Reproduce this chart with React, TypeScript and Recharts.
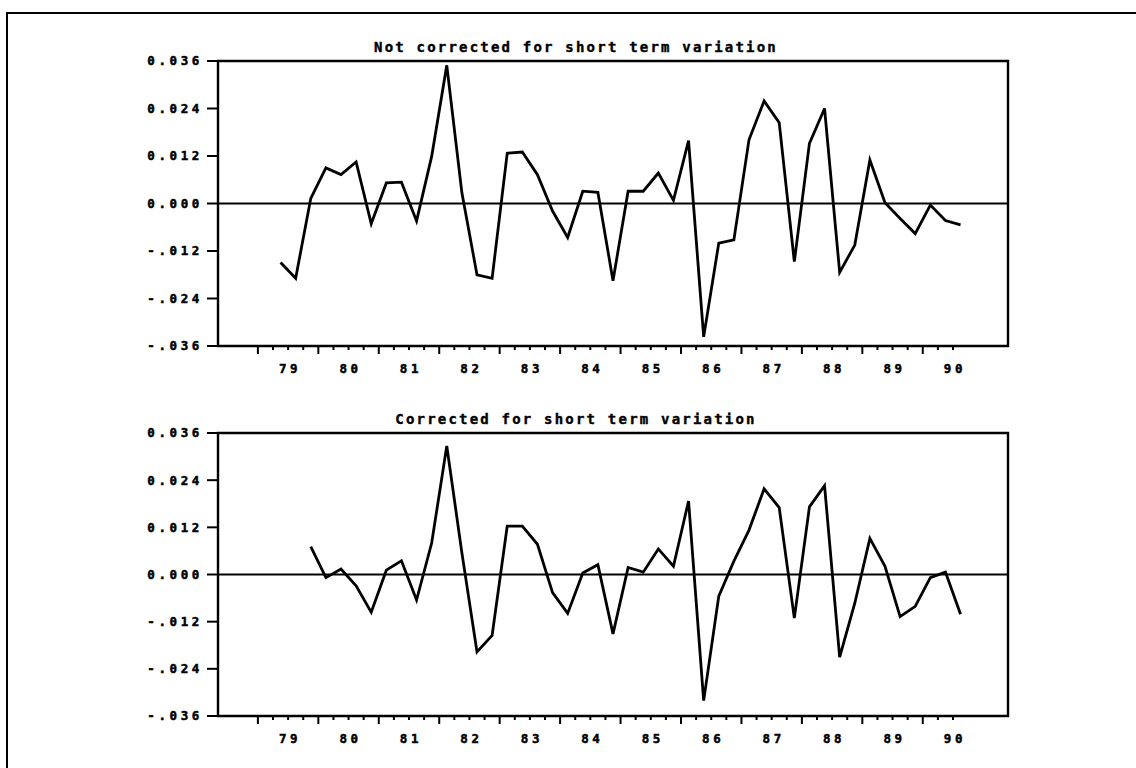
import React from "react";
import {
  LineChart,
  Line,
  XAxis,
  YAxis,
  ReferenceLine,
  ReferenceArea,
} from "recharts";

// quarterly observations, 1979 Q2 .. 1990 Q3
const firstYear = 1979;
const firstQuarter = 2;
const periodCount = 46;

const notCorrected = [
  -0.0149, -0.0189, 0.0013, 0.009, 0.0073, 0.0105, -0.0051, 0.0052, 0.0054, -0.0044,
  0.0119, 0.0349, 0.0027, -0.018, -0.0189, 0.0127, 0.013, 0.0073, -0.0019, -0.0086,
  0.0031, 0.0028, -0.0195, 0.0031, 0.0031, 0.0077, 0.0008, 0.0159, -0.0337, -0.01,
  -0.0092, 0.0161, 0.0259, 0.0204, -0.0147, 0.0152, 0.024, -0.0174, -0.0105, 0.011,
  0.0002, -0.0038, -0.0076, -0.0004, -0.0043, -0.0054,
];

const corrected = [
  null, null,
  0.0071, -0.0008, 0.0014, -0.0029, -0.0096, 0.0011, 0.0035, -0.0065,
  0.008, 0.0327, 0.0055, -0.0197, -0.0155, 0.0123, 0.0123, 0.0077, -0.0046, -0.0099,
  0.0004, 0.0025, -0.0151, 0.0018, 0.0006, 0.0065, 0.0021, 0.0187, -0.0321, -0.0055,
  0.0034, 0.0113, 0.0218, 0.017, -0.0111, 0.0172, 0.0226, -0.021, -0.0073, 0.0092,
  0.0021, -0.0107, -0.0081, -0.0008, 0.0006, -0.0101,
];

const yearLabels = ["79", "80", "81", "82", "83", "84", "85", "86", "87", "88", "89", "90"];
const yTicks = [-0.036, -0.024, -0.012, 0, 0.012, 0.024, 0.036];
const yTickLabels = ["-.036", "-.024", "-.012", "0.000", "0.012", "0.024", "0.036"];

const titles = ["Not corrected for short term variation", "Corrected for short term variation"];

// points sit in the middle of their quarter
const data = Array.from({ length: periodCount }, (_, i) => {
  const q = firstQuarter - 1 + i;
  const year = firstYear + Math.floor(q / 4);
  return {
    t: year + ((q % 4) + 0.5) / 4,
    a: notCorrected[i],
    b: corrected[i],
  };
});

// quarter ticks from 1979 to 1990 Q3
const xTicks: number[] = [];
yearLabels.forEach((_, yi) => {
  for (let k = 0; k < 4; k++) {
    const v = firstYear + yi + k / 4;
    if (v <= 1990.5) xTicks.push(v);
  }
});

const xDomain = [1978.34, 1991.41];
const mono = "'DejaVu Sans Mono', monospace";

function QuarterTick(props: any) {
  const { x, y, payload } = props;
  const v = payload.value;
  const major = Math.abs(v - Math.round(v)) < 1e-6;
  const mid = Math.abs(v - Math.floor(v) - 0.5) < 1e-6;
  const label = yearLabels[Math.floor(v + 1e-6) - firstYear];
  return (
    <g>
      <line x1={x} x2={x} y1={y} y2={y + (major ? 8 : 4)} stroke="#000" strokeWidth={2} />
      {mid && (
        <text
          x={x + 2}
          y={y + 27}
          textAnchor="middle"
          fill="#000"
          fontFamily={mono}
          fontWeight="bold"
          fontSize={12.5}
          letterSpacing={3.6}
          stroke="#000"
          strokeWidth={0.5}
        >
          {label}
        </text>
      )}
    </g>
  );
}

function Panel({ dataKey, top, bottom }: { dataKey: string; top: number; bottom: number }) {
  return (
    <LineChart
      width={1136}
      height={384}
      data={data}
      margin={{ top, right: 128, left: 138, bottom }}
    >
      <XAxis
        dataKey="t"
        type="number"
        domain={xDomain}
        ticks={xTicks}
        interval={0}
        allowDataOverflow
        axisLine={false}
        tickLine={false}
        tickSize={0}
        tickMargin={0}
        height={30}
        tick={<QuarterTick />}
      />
      <YAxis
        type="number"
        domain={[-0.036, 0.036]}
        ticks={yTicks}
        interval={0}
        allowDataOverflow
        width={80}
        axisLine={false}
        tickSize={11}
        tickMargin={4}
        tickLine={{ stroke: "#000", strokeWidth: 2 }}
        tickFormatter={(v: number) => yTickLabels[yTicks.findIndex((t) => Math.abs(t - v) < 1e-9)]}
        tick={{
          fill: "#000",
          stroke: "#000",
          strokeWidth: 0.5,
          fontFamily: mono,
          fontWeight: "bold",
          fontSize: 12.5,
          letterSpacing: 3.6,
        }}
      />
      <ReferenceArea
        x1={xDomain[0]}
        x2={xDomain[1]}
        y1={-0.036}
        y2={0.036}
        fill="none"
        stroke="#000"
        strokeWidth={2.4}
        ifOverflow="visible"
      />
      <ReferenceLine y={0} stroke="#000" strokeWidth={2} />
      <Line
        type="linear"
        dataKey={dataKey}
        stroke="#000"
        strokeWidth={2.8}
        dot={false}
        isAnimationActive={false}
      />
    </LineChart>
  );
}

const titleStyle: React.CSSProperties = {
  position: "absolute",
  left: 0,
  width: 1152,
  textAlign: "center",
  fontFamily: mono,
  fontWeight: "bold",
  fontSize: 14,
  letterSpacing: 2.2,
  color: "#000",
  whiteSpace: "nowrap",
  WebkitTextStroke: "0.4px #000",
};

export default function App() {
  return (
    <div style={{ position: "relative", width: 1136, height: 768, background: "#fff", overflow: "hidden" }}>
      <style>{`body{margin:0}`}</style>
      <div
        style={{
          position: "absolute",
          left: 6,
          top: 12,
          width: 1200,
          height: 800,
          borderTop: "2px solid #000",
          borderLeft: "2px solid #000",
        }}
      />
      <div style={{ ...titleStyle, top: 39 }}>{titles[0]}</div>
      <div style={{ ...titleStyle, top: 411 }}>{titles[1]}</div>
      <div style={{ position: "absolute", left: 0, top: 0 }}>
        <Panel dataKey="a" top={61} bottom={8} />
      </div>
      <div style={{ position: "absolute", left: 0, top: 384 }}>
        <Panel dataKey="b" top={49} bottom={22} />
      </div>
    </div>
  );
}
